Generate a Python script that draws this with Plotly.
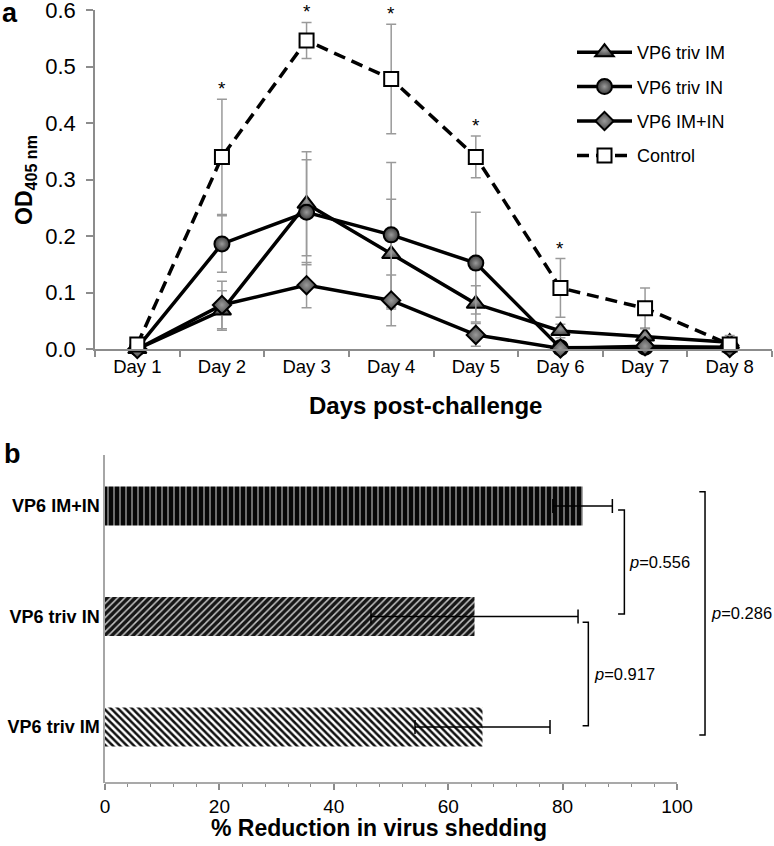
import plotly.graph_objects as go

# ---------------- data: panel a ----------------
days = ["Day 1", "Day 2", "Day 3", "Day 4", "Day 5", "Day 6", "Day 7", "Day 8"]

triv_im = [0.000, 0.068, 0.257, 0.168, 0.080, 0.032, 0.022, 0.012]
triv_im_err = [0.000, 0.035, 0.092, 0.097, 0.032, 0.012, 0.015, 0.008]

triv_in = [0.002, 0.186, 0.242, 0.202, 0.152, 0.002, 0.003, 0.003]
triv_in_err = [0.000, 0.050, 0.093, 0.128, 0.090, 0.003, 0.003, 0.002]

im_in = [0.000, 0.078, 0.113, 0.086, 0.025, 0.001, 0.005, 0.002]
im_in_err = [0.000, 0.042, 0.040, 0.045, 0.020, 0.002, 0.004, 0.002]

control = [0.008, 0.340, 0.546, 0.478, 0.340, 0.108, 0.072, 0.008]
control_err = [0.004, 0.102, 0.032, 0.097, 0.037, 0.052, 0.036, 0.016]

significant_days = ["Day 2", "Day 3", "Day 4", "Day 5", "Day 6"]

# ---------------- data: panel b ----------------
groups = ["VP6 triv IM", "VP6 triv IN", "VP6 IM+IN"]
reduction = [66.0, 64.6, 83.5]
reduction_err = [11.8, 18.1, 5.2]

# comparisons: (lower group index, upper group index, p-value label)
comparisons = [
    (1, 2, "0.556"),
    (0, 1, "0.917"),
    (0, 2, "0.286"),
]

FONT = "Liberation Sans, Arial, Helvetica, sans-serif"
AX = "#8c8c8c"
W, H = 774, 846


def py(pix):
    return 1 - pix / H


def px(pix):
    return pix / W


fig = go.Figure()

err_style = dict(type="data", color="#9a9a9a", thickness=1.5, width=5)

series = [
    ("VP6 triv IM", triv_im, triv_im_err, "triangle-up", 16, "#4a4a4a", "solid"),
    ("VP6 triv IN", triv_in, triv_in_err, "circle", 15, "#3c3c3c", "solid"),
    ("VP6 IM+IN", im_in, im_in_err, "diamond", 14, "#4a4a4a", "solid"),
    ("Control", control, control_err, "square", 14, "white", "12px,7px"),
]

for i, (name, vals, errs, sym, size, col, dash) in enumerate(series):
    marker = dict(symbol=sym, size=size, color=col, line=dict(color="black", width=2))
    if col != "white":
        marker["gradient"] = dict(type="radial", color="#9a9a9a")
    fig.add_trace(go.Scatter(
        x=days, y=vals, name=name, mode="lines+markers",
        line=dict(color="black", width=3.5, dash=dash),
        marker=marker,
        error_y=dict(array=errs, **err_style),
        cliponaxis=False,
        legendgroup=f"g{i}",
        xaxis="x", yaxis="y",
    ))

# ---------------- panel b bars ----------------
bar_patterns = [
    dict(shape="\\", bgcolor="#ffffff", fgcolor="#111111", size=5, solidity=0.5),
    dict(shape="/", bgcolor="#161616", fgcolor="#c4c4c4", size=5, solidity=0.3),
    dict(shape="|", bgcolor="#080808", fgcolor="#dcdcdc", size=6, solidity=0.16),
]
for k, g in enumerate(groups):
    fig.add_trace(go.Bar(
        y=[k], x=[reduction[k]], orientation="h", name=g,
        width=0.353,
        marker=dict(color=bar_patterns[k]["bgcolor"], line=dict(width=0),
                    pattern=dict(fillmode="replace", **bar_patterns[k])),
        error_x=dict(type="data", array=[reduction_err[k]], color="black", thickness=1.5, width=7),
        showlegend=False,
        xaxis="x2", yaxis="y2",
    ))

shapes = []
annotations = []

# brackets
bracket_geom = {
    "0.556": dict(xv=90.8, xa=89.7, y0=1.022, y1=1.964, xt=91.4),
    "0.917": dict(xv=84.5, xa=83.5, y0=0.012, y1=0.947, xt=85.4),
    "0.286": dict(xv=104.9, xa=103.9, y0=-0.072, y1=2.13, xt=105.7),
}
for lo, hi, p in comparisons:
    g = bracket_geom[p]
    shapes.append(dict(
        type="path", xref="x2", yref="y2",
        path=f"M{g['xa']},{g['y1']} L{g['xv']},{g['y1']} L{g['xv']},{g['y0']} L{g['xa']},{g['y0']}",
        line=dict(color="black", width=1.5),
    ))
    annotations.append(dict(
        x=g["xt"], y=(g["y0"] + g["y1"]) / 2, xref="x2", yref="y2",
        text=f"<i>p</i>={p}", showarrow=False,
        xanchor="left", yanchor="middle", borderpad=0,
        font=dict(family=FONT, size=16.5, color="black"),
    ))

# bottom x axis line only up to 100
shapes.append(dict(type="line", xref="x2", yref="y2 domain", x0=0, x1=100, y0=0, y1=0,
                   line=dict(color=AX, width=1.5)))

# asterisks
for d in significant_days:
    k = days.index(d)
    annotations.append(dict(
        x=d, y=control[k] + control_err[k], xref="x", yref="y",
        text="*", showarrow=False, yanchor="bottom", yshift=-2,
        font=dict(family=FONT, size=19, color="black"),
    ))

# panel labels and titles
annotations += [
    dict(x=px(1), y=1, xref="paper", yref="paper", text="<b>a</b>", showarrow=False,
         xanchor="left", yanchor="top", borderpad=0, yshift=3,
         font=dict(family=FONT, size=27, color="black")),
    dict(x=px(3), y=py(438), xref="paper", yref="paper", text="<b>b</b>", showarrow=False,
         xanchor="left", yanchor="top", borderpad=0,
         font=dict(family=FONT, size=27, color="black")),
    dict(x=px(26), y=py(180), xref="paper", yref="paper", text="<b>OD<sub>405 nm</sub></b>",
         showarrow=False, textangle=-90, xanchor="center", yanchor="middle",
         font=dict(family=FONT, size=23, color="black")),
    dict(x=px(425), y=py(405), xref="paper", yref="paper", text="<b>Days post-challenge</b>",
         showarrow=False, xanchor="center", yanchor="middle",
         font=dict(family=FONT, size=24, color="black")),
    dict(x=px(379), y=py(828), xref="paper", yref="paper", text="<b>% Reduction in virus shedding</b>",
         showarrow=False, xanchor="center", yanchor="middle",
         font=dict(family=FONT, size=23, color="black")),
]

fig.update_layout(
    template="none",
    width=W, height=H,
    margin=dict(l=0, r=0, t=0, b=0, pad=0),
    paper_bgcolor="white", plot_bgcolor="white",
    font=dict(family=FONT, color="black"),
    showlegend=True,
    barmode="overlay",
    legend=dict(
        x=px(572), y=py(34), xanchor="left", yanchor="top",
        font=dict(family=FONT, size=18, color="black"),
        bgcolor="rgba(0,0,0,0)", tracegroupgap=8, itemwidth=55,
    ),
    xaxis=dict(
        domain=[px(95), px(772)], anchor="y", type="category", automargin=False,
        range=[-0.5, 7.5], tickson="boundaries",
        ticks="outside", ticklen=6, tickwidth=1.5, tickcolor=AX,
        showline=True, linecolor=AX, linewidth=1.5,
        showgrid=False, zeroline=False,
        tickfont=dict(family=FONT, size=18.5, color="black"),
    ),
    yaxis=dict(
        domain=[py(349), py(10)], anchor="x", automargin=False,
        range=[0, 0.6], tickvals=[0, 0.1, 0.2, 0.3, 0.4, 0.5, 0.6], tickformat=".1f",
        ticks="outside", ticklen=7, tickwidth=1.5, tickcolor=AX, ticklabelstandoff=6,
        ticklabeloverflow="allow",
        showline=True, linecolor=AX, linewidth=1.5,
        showgrid=False, zeroline=False,
        tickfont=dict(family=FONT, size=22, color="black"),
    ),
    xaxis2=dict(
        domain=[px(105), 1.0], anchor="y2", automargin=False,
        range=[0, 116.96], tickvals=[0, 20, 40, 60, 80, 100],
        ticks="outside", ticklen=6, tickwidth=1.5, tickcolor=AX,
        minor=dict(tickmode="array", tickvals=[v for v in range(4, 100, 4) if v % 20],
                   ticks="outside", ticklen=3, tickwidth=1.2, tickcolor=AX),
        showline=False, showgrid=False, zeroline=False,
        tickfont=dict(family=FONT, size=19, color="black"),
    ),
    yaxis2=dict(
        domain=[py(783), py(455)], anchor="x2", automargin=False,
        range=[-0.507, 2.462], tickvals=list(range(len(groups))), ticktext=groups,
        ticks="", showline=True, linecolor="#a6a6a6", linewidth=1.5,
        showgrid=False, zeroline=False,
        tickfont=dict(family=FONT, size=18, color="black", weight="bold"),
    ),
    shapes=shapes,
    annotations=annotations,
)

fig.write_html("out.html", config={"displayModeBar": False},
               post_script="document.body.style.margin='0';")
